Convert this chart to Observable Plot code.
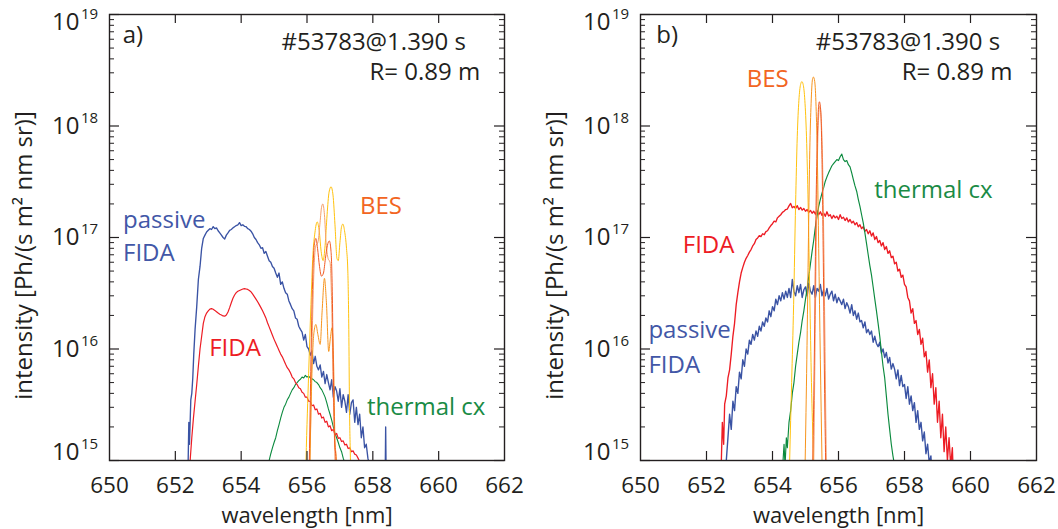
<!DOCTYPE html>
<html>
<head>
<meta charset="utf-8">
<script src="https://cdn.jsdelivr.net/npm/d3@7"></script>
<script src="https://cdn.jsdelivr.net/npm/@observablehq/plot@0.6"></script>
<style>
  html, body { margin: 0; padding: 0; background: #ffffff; }
  #wrap { position: relative; width: 1058px; height: 529px; overflow: hidden; background: #fff; }
  #pa { position: absolute; left: 0; top: 0; }
  #pb { position: absolute; left: 530px; top: 0; }
  svg { overflow: visible; }
</style>
</head>
<body>
<div id="wrap"><div id="pa"></div><div id="pb"></div></div>
<script>
// ---------- axis values ----------
const xTicks = [650, 652, 654, 656, 658, 660, 662];
const xInnerTicks = [652, 654, 656, 658, 660];
const yDecades = [1e15, 1e16, 1e17, 1e18, 1e19];
const yExponents = ["15", "16", "17", "18", "19"];
const yMinorMultipliers = [2, 3, 4, 5, 6, 7, 8, 9];
const xLabel = "wavelength [nm]";
const yLabel = "intensity [Ph/(s m\u00b2 nm sr)]";
const shotText = "#53783@1.390 s";
const radiusText = "R= 0.89 m";

// ---------- panel a) data : [wavelength nm, intensity Ph/(s m^2 nm sr)] ----------
const aPassiveFida = [[652.35,5e14],[652.39,1e15],[652.41,2.2e15],[652.43,1.4e15],[652.47,3.5e15],[652.50,4e15],[652.53,5.5e15],[652.56,9e15],[652.60,1.5e16],[652.65,2.4e16],[652.70,4.2e16],[652.75,5.5e16],[652.80,8e16],[652.85,9.8e16],[652.90,1.05e17],[652.95,1.12e17],[653.00,1.16e17],[653.05,1.2e17],[653.10,1.18e17],[653.15,1.25e17],[653.20,1.2e17],[653.25,1.22e17],[653.30,1.15e17],[653.35,1.1e17],[653.40,1.05e17],[653.45,1e17],[653.50,9.7e16],[653.55,1.05e17],[653.60,1.1e17],[653.65,1.16e17],[653.70,1.18e17],[653.75,1.22e17],[653.80,1.25e17],[653.85,1.28e17],[653.90,1.3e17],[653.95,1.36e17],[654.00,1.28e17],[654.05,1.3e17],[654.10,1.26e17],[654.15,1.25e17],[654.20,1.2e17],[654.25,1.18e17],[654.30,1.14e17],[654.35,1.08e17],[654.40,1e17],[654.45,9.6e16],[654.50,9e16],[654.55,8.6e16],[654.60,8e16],[654.65,8.1e16],[654.70,7.2e16],[654.75,7.5e16],[654.80,6.8e16],[654.85,6.2e16],[654.90,6.0e16],[654.95,5.5e16],[655.00,5.3e16],[655.05,4.8e16],[655.10,4.4e16],[655.15,4.8e16],[655.20,3.8e16],[655.25,4e16],[655.30,3.5e16],[655.35,3.2e16],[655.40,3.1e16],[655.45,2.7e16],[655.50,2.5e16],[655.55,2.3e16],[655.60,2.2e16],[655.65,1.9e16],[655.70,1.85e16],[655.75,1.6e16],[655.80,1.5e16],[655.85,1.42e16],[655.90,1.2e16],[655.95,1.35e16],[656.00,1.05e16],[656.05,1.0e16],[656.10,8.8e15],[656.15,9.6e15],[656.20,7.4e15],[656.25,8.6e15],[656.30,7.0e15],[656.35,6.5e15],[656.40,7.2e15],[656.45,5.6e15],[656.50,6.3e15],[656.55,4.9e15],[656.60,5.9e15],[656.65,5.0e15],[656.70,4.3e15],[656.75,5.3e15],[656.80,3.7e15],[656.85,4.6e15],[656.90,4.2e15],[656.95,3.4e15],[657.00,4.4e15],[657.05,3.0e15],[657.10,3.9e15],[657.15,3.4e15],[657.20,2.7e15],[657.25,3.9e15],[657.30,2.6e15],[657.35,3.3e15],[657.40,3.5e15],[657.45,2.2e15],[657.50,3.0e15],[657.55,2.1e15],[657.60,2.6e15],[657.65,1.6e15],[657.70,2.0e15],[657.75,1.3e15],[657.80,1.4e15],[657.85,1.05e15],[657.90,9e14],[657.95,5e14],[658.00,null],[658.37,5e14],[658.39,2e15],[658.41,5e14]];

const aFida = [[652.40,5e14],[652.45,1e15],[652.50,1.6e15],[652.55,2.4e15],[652.60,3.4e15],[652.65,4.8e15],[652.70,7e15],[652.75,1e16],[652.80,1.3e16],[652.85,1.7e16],[652.90,1.95e16],[652.95,2.1e16],[653.00,2.2e16],[653.05,2.28e16],[653.10,2.3e16],[653.15,2.27e16],[653.20,2.22e16],[653.25,2.16e16],[653.30,2.1e16],[653.35,2.05e16],[653.40,2.02e16],[653.45,1.98e16],[653.50,1.97e16],[653.55,2.02e16],[653.60,2.15e16],[653.65,2.35e16],[653.70,2.6e16],[653.75,2.85e16],[653.80,3.05e16],[653.85,3.2e16],[653.90,3.3e16],[653.95,3.35e16],[654.00,3.4e16],[654.05,3.45e16],[654.10,3.48e16],[654.15,3.45e16],[654.20,3.42e16],[654.25,3.35e16],[654.30,3.25e16],[654.35,3.1e16],[654.40,2.95e16],[654.45,2.8e16],[654.50,2.65e16],[654.55,2.5e16],[654.60,2.35e16],[654.65,2.2e16],[654.70,2.05e16],[654.75,1.9e16],[654.80,1.72e16],[654.85,1.58e16],[654.90,1.45e16],[654.95,1.33e16],[655.00,1.22e16],[655.05,1.13e16],[655.10,1.05e16],[655.15,9.7e15],[655.20,9e15],[655.25,8.5e15],[655.30,7.9e15],[655.35,7.3e15],[655.40,6.8e15],[655.45,6.5e15],[655.50,6.1e15],[655.55,5.6e15],[655.60,5.4e15],[655.65,5e15],[655.70,4.8e15],[655.75,4.5e15],[655.80,4.4e15],[655.85,4.1e15],[655.90,4e15],[655.95,3.7e15],[656.00,3.7e15],[656.05,3.4e15],[656.10,3.4e15],[656.15,3.1e15],[656.20,3.15e15],[656.25,2.85e15],[656.30,2.9e15],[656.35,2.6e15],[656.40,2.65e15],[656.45,2.4e15],[656.50,2.45e15],[656.55,2.2e15],[656.60,2.25e15],[656.65,2e15],[656.70,2.05e15],[656.75,1.85e15],[656.80,1.9e15],[656.85,1.7e15],[656.90,1.75e15],[656.95,1.58e15],[657.00,1.6e15],[657.05,1.48e15],[657.10,1.5e15],[657.15,1.38e15],[657.20,1.4e15],[657.25,1.28e15],[657.30,1.3e15],[657.35,1.2e15],[657.40,1.22e15],[657.45,1.14e15],[657.50,1.12e15],[657.55,1.05e15],[657.60,9.8e14],[657.65,6e14]];

const aThermalCx = [[654.80,7e14],[654.85,1e15],[654.90,1.15e15],[654.95,1.3e15],[655.00,1.45e15],[655.05,1.6e15],[655.10,1.85e15],[655.15,2.1e15],[655.20,2.4e15],[655.25,2.7e15],[655.30,3e15],[655.35,3.2e15],[655.40,3.5e15],[655.45,3.7e15],[655.50,4e15],[655.55,4.3e15],[655.60,4.5e15],[655.65,4.8e15],[655.70,5e15],[655.75,5.2e15],[655.80,5.35e15],[655.85,5.6e15],[655.90,5.5e15],[655.95,5.8e15],[656.00,5.6e15],[656.05,5.7e15],[656.10,5.5e15],[656.15,5.4e15],[656.20,5.3e15],[656.25,5.1e15],[656.30,5e15],[656.35,4.8e15],[656.40,4.5e15],[656.45,4.3e15],[656.50,4e15],[656.55,3.7e15],[656.60,3.3e15],[656.65,2.9e15],[656.70,2.6e15],[656.75,2.3e15],[656.80,2e15],[656.85,1.75e15],[656.90,1.6e15],[656.95,1.45e15],[657.00,1.3e15],[657.05,1.2e15],[657.10,1.05e15],[657.15,9.5e14],[657.20,7e14]];

const aBesYellow = [[655.90,1e14],[655.97,1e15],[656.05,6e15],[656.12,2.5e16],[656.18,7e16],[656.24,1.1e17],[656.31,1.38e17],[656.37,1.15e17],[656.43,7.5e16],[656.49,6.2e16],[656.55,8.5e16],[656.61,1.6e17],[656.67,2.55e17],[656.73,2.85e17],[656.79,2.4e17],[656.85,1.3e17],[656.91,6.5e16],[656.95,6.2e16],[657.00,9e16],[657.05,1.25e17],[657.09,1.32e17],[657.14,1.15e17],[657.20,8e16],[657.24,5e16],[657.27,1.5e16],[657.29,3.2e15],[657.32,1e15],[657.38,1e14]];
const aBesSalmon = [[656.02,1e14],[656.09,1e15],[656.15,1e16],[656.21,5e16],[656.27,8.5e16],[656.33,9e16],[656.39,1.3e17],[656.44,1.85e17],[656.48,2e17],[656.53,1.6e17],[656.58,9e16],[656.64,6.5e16],[656.70,6e16],[656.75,2.5e16],[656.80,4e15],[656.85,1e15],[656.91,1e14]];
const aBesDark = [[656.00,1e14],[656.07,1e15],[656.12,8e15],[656.17,4e16],[656.22,8.5e16],[656.27,9.8e16],[656.32,8e16],[656.38,5.5e16],[656.44,4.5e16],[656.50,4.8e16],[656.56,6.5e16],[656.62,8.5e16],[656.68,9.3e16],[656.73,7.5e16],[656.77,3e16],[656.80,6.3e15],[656.84,1.5e15],[656.88,1e15],[656.94,1e14]];
const aBesOrange = [[656.03,1e14],[656.09,1e15],[656.15,6e15],[656.21,1.4e16],[656.27,1.66e16],[656.33,1.35e16],[656.40,1.1e16],[656.46,2.2e16],[656.53,4.3e16],[656.59,2.6e16],[656.66,9.5e15],[656.71,1.25e16],[656.76,1.55e16],[656.81,7e15],[656.85,1.5e15],[656.89,1e15],[656.95,1e14]];

// ---------- panel b) data ----------
const bPassiveFida = [[652.60,1e15],[652.65,1.6e15],[652.70,2.6e15],[652.75,1.9e15],[652.80,3.4e15],[652.85,2.8e15],[652.90,4.6e15],[652.95,4e15],[653.00,6.2e15],[653.05,5.4e15],[653.10,8e15],[653.15,7e15],[653.20,1e16],[653.25,9e15],[653.30,1.2e16],[653.35,1.1e16],[653.40,1.35e16],[653.45,1.2e16],[653.50,1.45e16],[653.55,1.3e16],[653.60,1.6e16],[653.65,1.45e16],[653.70,1.75e16],[653.75,1.6e16],[653.80,1.9e16],[653.85,1.75e16],[653.90,2.2e16],[653.95,1.95e16],[654.00,2.4e16],[654.05,2.2e16],[654.10,2.8e16],[654.15,2.5e16],[654.20,3e16],[654.25,2.7e16],[654.30,3.2e16],[654.35,2.8e16],[654.40,3.3e16],[654.45,2.9e16],[654.50,3.5e16],[654.55,2.9e16],[654.60,4.2e16],[654.65,3.3e16],[654.70,3.0e16],[654.75,3.7e16],[654.80,3.2e16],[654.85,3.8e16],[654.90,2.9e16],[654.95,3.4e16],[655.00,3.6e16],[655.05,3.0e16],[655.10,3.9e16],[655.15,3.3e16],[655.20,3.1e16],[655.25,3.7e16],[655.30,2.9e16],[655.35,3.5e16],[655.40,3.3e16],[655.45,3.8e16],[655.50,3.0e16],[655.55,3.4e16],[655.60,3.0e16],[655.65,3.5e16],[655.70,2.8e16],[655.75,3.1e16],[655.80,3.3e16],[655.85,2.7e16],[655.90,3.1e16],[655.95,2.6e16],[656.00,2.9e16],[656.05,2.7e16],[656.10,2.5e16],[656.15,2.8e16],[656.20,2.3e16],[656.25,2.6e16],[656.30,2.4e16],[656.35,2.1e16],[656.40,2.5e16],[656.45,2.0e16],[656.50,2.2e16],[656.55,1.85e16],[656.60,2.1e16],[656.65,1.75e16],[656.70,1.8e16],[656.75,1.55e16],[656.80,1.75e16],[656.85,1.4e16],[656.90,1.5e16],[656.95,1.35e16],[657.00,1.45e16],[657.05,1.15e16],[657.10,1.3e16],[657.15,1.12e16],[657.20,1.05e16],[657.25,1.15e16],[657.30,9.2e15],[657.35,1.0e16],[657.40,8.4e15],[657.45,9.3e15],[657.50,7.5e15],[657.55,8.4e15],[657.60,6.6e15],[657.65,7.4e15],[657.70,6.6e15],[657.75,5.4e15],[657.80,6.5e15],[657.85,4.7e15],[657.90,5.8e15],[657.95,4.6e15],[658.00,4.8e15],[658.05,3.6e15],[658.10,4.6e15],[658.15,3.2e15],[658.20,3.8e15],[658.25,2.8e15],[658.30,3.3e15],[658.35,2.2e15],[658.40,2.8e15],[658.45,1.9e15],[658.50,2.2e15],[658.55,1.5e15],[658.60,1.8e15],[658.65,1.15e15],[658.70,1.4e15],[658.75,9.5e14],[658.80,1.1e15],[658.85,6e14]];

const bFida = [[652.45,1e15],[652.48,2.2e15],[652.52,1.4e15],[652.55,3.2e15],[652.60,3.8e15],[652.65,5.5e15],[652.70,6.5e15],[652.75,9e15],[652.80,1.3e16],[652.85,1.7e16],[652.90,2.5e16],[652.95,3.2e16],[653.00,4e16],[653.05,4.8e16],[653.10,5.4e16],[653.15,6e16],[653.20,6.5e16],[653.25,6.9e16],[653.30,7.4e16],[653.35,7.8e16],[653.40,8.4e16],[653.45,8.8e16],[653.50,9.6e16],[653.55,9.9e16],[653.60,1.04e17],[653.65,1.02e17],[653.70,1.08e17],[653.75,1.06e17],[653.80,1.13e17],[653.85,1.15e17],[653.90,1.22e17],[653.95,1.28e17],[654.00,1.33e17],[654.05,1.4e17],[654.10,1.38e17],[654.15,1.5e17],[654.20,1.55e17],[654.25,1.6e17],[654.30,1.68e17],[654.35,1.72e17],[654.40,1.78e17],[654.45,1.8e17],[654.50,1.92e17],[654.55,2.02e17],[654.60,1.85e17],[654.65,1.9e17],[654.70,1.82e17],[654.75,1.93e17],[654.80,1.78e17],[654.85,1.86e17],[654.90,1.76e17],[654.95,1.82e17],[655.00,1.72e17],[655.05,1.78e17],[655.10,1.68e17],[655.15,1.75e17],[655.20,1.65e17],[655.25,1.72e17],[655.30,1.62e17],[655.35,1.74e17],[655.40,1.6e17],[655.45,1.7e17],[655.50,1.58e17],[655.55,1.66e17],[655.60,1.55e17],[655.65,1.7e17],[655.70,1.56e17],[655.75,1.6e17],[655.80,1.48e17],[655.85,1.58e17],[655.90,1.5e17],[655.95,1.55e17],[656.00,1.45e17],[656.05,1.6e17],[656.10,1.48e17],[656.15,1.52e17],[656.20,1.42e17],[656.25,1.5e17],[656.30,1.38e17],[656.35,1.45e17],[656.40,1.35e17],[656.45,1.4e17],[656.50,1.3e17],[656.55,1.36e17],[656.60,1.25e17],[656.65,1.3e17],[656.70,1.2e17],[656.75,1.25e17],[656.80,1.14e17],[656.85,1.18e17],[656.90,1.08e17],[656.95,1.15e17],[657.00,1.03e17],[657.05,1.1e17],[657.10,9.6e16],[657.15,1.02e17],[657.20,9e16],[657.25,9.4e16],[657.30,8.4e16],[657.35,9e16],[657.40,7.8e16],[657.45,8.3e16],[657.50,7.2e16],[657.55,7.6e16],[657.60,6.6e16],[657.65,6.8e16],[657.70,5.8e16],[657.75,6e16],[657.80,5e16],[657.85,5.2e16],[657.90,4.4e16],[657.95,4.6e16],[658.00,3.8e16],[658.05,3.6e16],[658.10,2.9e16],[658.15,2.7e16],[658.20,2.1e16],[658.25,2.3e16],[658.30,1.7e16],[658.35,1.8e16],[658.40,1.35e16],[658.45,1.5e16],[658.50,1.1e16],[658.55,1.25e16],[658.60,8.5e15],[658.65,9.5e15],[658.70,6.2e15],[658.75,8e15],[658.80,4.5e15],[658.85,6e15],[658.90,3.2e15],[658.95,4.5e15],[659.00,2.2e15],[659.05,3.4e15],[659.10,1.6e15],[659.15,2.6e15],[659.20,1.2e15],[659.25,2e15],[659.30,1e15],[659.35,1.6e15],[659.40,9e14],[659.45,1.3e15],[659.50,5e14]];

const bThermalCx = [[654.30,8e14],[654.35,1.4e15],[654.38,9e14],[654.42,1.6e15],[654.45,1.3e15],[654.50,2.2e15],[654.55,2.8e15],[654.60,4e15],[654.65,5e15],[654.70,7e15],[654.75,9e15],[654.80,1.15e16],[654.85,1.4e16],[654.90,1.8e16],[654.95,2.2e16],[655.00,2.8e16],[655.05,3.5e16],[655.10,4.5e16],[655.15,5.8e16],[655.20,7.5e16],[655.25,9.5e16],[655.30,1.25e17],[655.35,1.55e17],[655.40,1.9e17],[655.45,2.2e17],[655.50,2.5e17],[655.55,2.8e17],[655.60,3.2e17],[655.65,3.5e17],[655.70,3.8e17],[655.75,4.1e17],[655.80,4.4e17],[655.85,4.6e17],[655.90,4.8e17],[655.95,5e17],[656.00,4.9e17],[656.05,5.3e17],[656.10,5.6e17],[656.15,5e17],[656.20,4.8e17],[656.25,4.9e17],[656.30,4.5e17],[656.35,4.3e17],[656.40,3.8e17],[656.45,3.3e17],[656.50,2.9e17],[656.55,2.6e17],[656.60,2.2e17],[656.65,1.9e17],[656.70,1.6e17],[656.75,1.35e17],[656.80,1.1e17],[656.85,8.8e16],[656.90,7e16],[656.95,5.6e16],[657.00,4.6e16],[657.05,3.6e16],[657.10,2.8e16],[657.15,2.2e16],[657.20,1.7e16],[657.25,1.3e16],[657.30,9.5e15],[657.35,7e15],[657.40,5.5e15],[657.45,3.8e15],[657.50,2.6e15],[657.55,1.9e15],[657.60,1.4e15],[657.65,1.1e15],[657.70,9e14]];

const bBesYellow = [[654.45,1e14],[654.52,1e15],[654.58,5e15],[654.64,2.5e16],[654.70,2e17],[654.75,8e17],[654.80,1.7e18],[654.85,2.35e18],[654.89,2.5e18],[654.93,2.35e18],[654.98,1.7e18],[655.03,8e17],[655.08,2e17],[655.13,3e16],[655.18,5e15],[655.24,1e15],[655.30,1e14]];
const bBesOrange = [[654.92,1e14],[654.99,1e15],[655.04,8e15],[655.09,1e17],[655.13,6e17],[655.17,1.6e18],[655.21,2.6e18],[655.24,2.75e18],[655.28,2.5e18],[655.32,1.5e18],[655.36,5e17],[655.40,8e16],[655.45,8e15],[655.50,1e15],[655.56,1e14]];
const bBesDark = [[655.15,1e14],[655.22,1e15],[655.27,1e16],[655.31,1.2e17],[655.35,6e17],[655.39,1.4e18],[655.42,1.65e18],[655.46,1.4e18],[655.50,5e17],[655.54,6e16],[655.58,4e15],[655.61,1e15],[655.66,1e14]];
const bBesSalmon = [[655.18,1e14],[655.25,1e15],[655.30,2e16],[655.34,2e17],[655.38,9e17],[655.43,1.5e18],[655.48,1.1e18],[655.53,3e17],[655.58,2e16],[655.63,1e15],[655.68,1e14]];

// ---------- annotations (text, data position) ----------
const aPanelTag = {text: "a)", x: 650.40, y: 5.5e18};
const bPanelTag = {text: "b)", x: 650.48, y: 5.5e18};
const aInfo = [{text: shotText, x: 660.83, y: 4.8e18}, {text: radiusText, x: 661.26, y: 2.58e18}];
const bInfo = [{text: shotText, x: 660.90, y: 4.8e18}, {text: radiusText, x: 661.27, y: 2.58e18}];
const aCurveLabels = [
  {text: "passive", x: 650.41, y: 1.22e17, kind: "passive"},
  {text: "FIDA", x: 650.41, y: 6.1e16, kind: "passive"},
  {text: "FIDA", x: 653.03, y: 8.7e15, kind: "fida"},
  {text: "BES", x: 657.61, y: 1.64e17, kind: "bes"},
  {text: "thermal cx", x: 657.82, y: 2.55e15, kind: "cx"}
];
const bCurveLabels = [
  {text: "BES", x: 653.22, y: 2.23e18, kind: "bes"},
  {text: "thermal cx", x: 657.08, y: 2.27e17, kind: "cx"},
  {text: "FIDA", x: 651.28, y: 7.2e16, kind: "fida"},
  {text: "passive", x: 650.24, y: 1.25e16, kind: "passive"},
  {text: "FIDA", x: 650.24, y: 6.1e15, kind: "passive"}
];

// ---------- styles ----------
const C = {
  passive: "#3a53a4", fida: "#ed1c24", cx: "#0b8a3e",
  yellow: "#ffc20e", orange: "#f7941d", dark: "#f15a24", salmon: "#f6a06c",
  besLabel: "#f26522", cxLabel: "#1a8b45", passiveLabel: "#4257a7", ink: "#231f20"
};
const labelColor = {passive: C.passiveLabel, fida: C.fida, bes: C.besLabel, cx: C.cxLabel};
const FONT = "'Open Sans', 'DejaVu Sans', sans-serif";

function panel({width, marginLeft, marginRight, series, tag, info, labels}) {
  const height = 529, marginTop = 14, marginBottom = 69;
  const fw = width - marginLeft - marginRight;
  const fh = height - marginTop - marginBottom;
  const minor = yDecades.slice(0, -1).flatMap(d => yMinorMultipliers.map(m => m * d));
  const midDecades = yDecades.slice(1, -1);
  const expOf = d => yExponents[yDecades.indexOf(d)];
  const px = d => d[0], py = d => d[1];
  return Plot.plot({
    width, height, marginLeft, marginRight, marginTop, marginBottom,
    style: {fontFamily: FONT, background: "white", overflow: "visible"},
    x: {domain: [650, 662], axis: null},
    y: {type: "log", domain: [1e15, 1e19], axis: null},
    marks: [
      // data lines
      ...series.map(s => Plot.line(s.data, {x: px, y: py, stroke: s.color, strokeWidth: s.w, curve: s.curve || "linear", clip: true})),
      // frame
      Plot.frame({stroke: C.ink, strokeWidth: 1.4}),
      // y ticks (inward, both sides)
      Plot.ruleY(yDecades, {y: d => d, insetRight: fw - 10, stroke: C.ink, strokeWidth: 1.2}),
      Plot.ruleY(yDecades, {y: d => d, insetLeft: fw - 10, stroke: C.ink, strokeWidth: 1.2}),
      Plot.ruleY(minor, {y: d => d, insetRight: fw - 5, stroke: C.ink, strokeWidth: 1}),
      Plot.ruleY(minor, {y: d => d, insetLeft: fw - 5, stroke: C.ink, strokeWidth: 1}),
      // x ticks (inward, top and bottom)
      Plot.ruleX(xInnerTicks, {x: d => d, insetTop: fh - 9, stroke: C.ink, strokeWidth: 1.2}),
      Plot.ruleX(xInnerTicks, {x: d => d, insetBottom: fh - 9, stroke: C.ink, strokeWidth: 1.2}),
      // x tick labels
      Plot.text(xTicks, {x: d => d, text: d => String(d), frameAnchor: "bottom", lineAnchor: "bottom", dy: 32, fontSize: 22.5, fill: C.ink}),
      // y tick labels: "10" + superscript exponent
      Plot.text(midDecades, {y: d => d, text: () => "10", frameAnchor: "left", textAnchor: "end", lineAnchor: "middle", dx: -30, fontSize: 24, fill: C.ink}),
      Plot.text(midDecades, {y: d => d, text: expOf, frameAnchor: "left", textAnchor: "start", lineAnchor: "middle", dx: -28.5, dy: -8, fontSize: 15, fill: C.ink}),
      Plot.text([yDecades[4]], {y: d => d, text: () => "10", frameAnchor: "left", textAnchor: "end", lineAnchor: "middle", dx: -30, dy: 8, fontSize: 24, fill: C.ink}),
      Plot.text([yDecades[4]], {y: d => d, text: expOf, frameAnchor: "left", textAnchor: "start", lineAnchor: "middle", dx: -28.5, dy: 0, fontSize: 15, fill: C.ink}),
      Plot.text([yDecades[0]], {y: d => d, text: () => "10", frameAnchor: "left", textAnchor: "end", lineAnchor: "middle", dx: -30, dy: -8, fontSize: 24, fill: C.ink}),
      Plot.text([yDecades[0]], {y: d => d, text: expOf, frameAnchor: "left", textAnchor: "start", lineAnchor: "middle", dx: -28.5, dy: -16, fontSize: 15, fill: C.ink}),
      // axis titles
      Plot.text([xLabel], {text: d => d, frameAnchor: "bottom", lineAnchor: "bottom", dy: 62.3, fontSize: 22, fill: C.ink}),
      Plot.text([yLabel], {text: d => d, frameAnchor: "left", rotate: -90, textAnchor: "middle", lineAnchor: "bottom", dx: -78, dy: 18, fontSize: 24, fill: C.ink}),
      // panel tag and shot info
      Plot.text([tag], {x: "x", y: "y", text: "text", textAnchor: "start", lineAnchor: "bottom", fontSize: 24, fill: C.ink}),
      Plot.text(info, {x: "x", y: "y", text: "text", textAnchor: "end", lineAnchor: "bottom", fontSize: 24, fill: C.ink}),
      // curve labels
      Plot.text(labels, {x: "x", y: "y", text: "text", textAnchor: "start", lineAnchor: "bottom", fontSize: 24, fill: d => labelColor[d.kind]})
    ]
  });
}

const figA = panel({
  width: 530, marginLeft: 109, marginRight: 26,
  series: [
    {data: aThermalCx, color: C.cx, w: 1.1},
    {data: aPassiveFida, color: C.passive, w: 1.35},
    {data: aFida, color: C.fida, w: 1.2},
    {data: aBesYellow, color: C.yellow, w: 1, curve: "monotone-x"},
    {data: aBesSalmon, color: C.salmon, w: 1, curve: "monotone-x"},
    {data: aBesOrange, color: C.orange, w: 1, curve: "monotone-x"},
    {data: aBesDark, color: C.dark, w: 1, curve: "monotone-x"}
  ],
  tag: aPanelTag, info: aInfo, labels: aCurveLabels
});
const figB = panel({
  width: 528, marginLeft: 110, marginRight: 22,
  series: [
    {data: bPassiveFida, color: C.passive, w: 1.4},
    {data: bFida, color: C.fida, w: 1.35},
    {data: bThermalCx, color: C.cx, w: 1.15},
    {data: bBesYellow, color: C.yellow, w: 1, curve: "monotone-x"},
    {data: bBesSalmon, color: C.salmon, w: 1, curve: "monotone-x"},
    {data: bBesOrange, color: C.orange, w: 1, curve: "monotone-x"},
    {data: bBesDark, color: C.dark, w: 1, curve: "monotone-x"}
  ],
  tag: bPanelTag, info: bInfo, labels: bCurveLabels
});
document.getElementById("pa").appendChild(figA);
document.getElementById("pb").appendChild(figB);
</script>
</body>
</html>
